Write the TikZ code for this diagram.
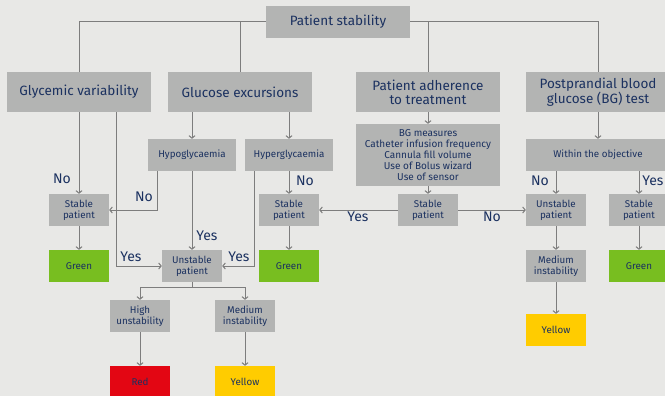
\documentclass[tikz,border=0pt]{standalone}
\usepackage{fontspec}
\setmainfont{Fira Sans}
\usepackage{xcolor}
\usetikzlibrary{arrows.meta}
\definecolor{bgpage}{HTML}{E8E8E6}
\definecolor{boxgray}{HTML}{B3B4B3}
\definecolor{navy}{HTML}{1B3160}
\definecolor{linegray}{HTML}{7D7D7D}
\definecolor{okgreen}{HTML}{78BE20}
\definecolor{alertred}{HTML}{E30613}
\definecolor{warnyellow}{HTML}{FFCC00}

\begin{document}
\begin{tikzpicture}[x=1pt, y=-1pt, >={Straight Barb[length=2.5pt,width=6pt]},
  bigbox/.style={fill=boxgray, text=navy, inner sep=0pt, align=center,
    minimum width=144pt, minimum height=40pt, font=\fontsize{13.5}{14}\selectfont},
  midbox/.style={fill=boxgray, text=navy, inner sep=0pt, align=center,
    minimum width=88pt, minimum height=32pt, font=\fontsize{9.8}{11}\selectfont},
  smallbox/.style={fill=boxgray, text=navy, inner sep=0pt, align=center,
    minimum width=60pt, minimum height=32pt, font=\fontsize{9.8}{11}\selectfont},
  colbox/.style={smallbox, fill=#1},
  link/.style={draw=linegray, line width=1pt},
  lab/.style={text=navy, inner sep=0pt, font=\fontsize{14}{15}\selectfont}]
  \useasboundingbox (0,0) rectangle (665,396);
  \fill[bgpage] (0,0) rectangle (665,396);

  % top row
  \node[bigbox, minimum height=32pt] (stab) at (338,22) {Patient stability};
  \node[bigbox] (glyc) at (79,92) {Glycemic variability};
  \node[bigbox] (gluc) at (240,92) {Glucose excursions};
  \node[bigbox] (adh) at (428,92) {Patient adherence\\to treatment};
  \node[bigbox] (post) at (598,92) {Postprandial blood\\glucose (BG) test};

  % second row
  \node[midbox] (hypo) at (192,155) {Hypoglycaemia};
  \node[midbox] (hyper) at (289,155) {Hyperglycaemia};
  \node[midbox, minimum width=144pt, minimum height=62pt,
    font=\fontsize{10}{11}\selectfont] (bgm) at (428,155)
    {BG measures\\Catheter infusion frequency\\Cannula fill volume\\Use of Bolus wizard\\Use of sensor};
  \node[midbox, minimum width=144pt] (within) at (598,155) {Within the objective};

  % outcome rows
  \foreach \n/\x in {stA/79, stB/289, stC/428, stD/639} {
    \node[smallbox] (\n) at (\x,210) {Stable\\patient};
  }
  \node[smallbox] (unR) at (556,210) {Unstable\\patient};
  \node[smallbox] (unC) at (192,266) {Unstable\\patient};
  \foreach \n/\x in {grA/79, grB/289, grD/639} {
    \node[colbox=okgreen] (\n) at (\x,266) {Green};
  }
  \node[smallbox] (medR) at (556,266) {Medium\\instability};
  \node[smallbox] (high) at (140,316) {High\\unstability};
  \node[smallbox] (medC) at (245,316) {Medium\\instability};
  \node[colbox=alertred] (red) at (140,382) {Red};
  \node[colbox=warnyellow] (yelC) at (245,382) {Yellow};
  \node[colbox=warnyellow] (yelR) at (556,330) {Yellow};

  % tree from the top
  \draw[link] (stab.west) -| (glyc.north);
  \draw[link] (gluc.north) |- (stab.west);
  \draw[link] (adh.north) |- (stab.east);
  \draw[link] (stab.east) -| (post.north);

  % glycemic variability
  \draw[link, ->] (glyc.south) -- (stA.north);
  \draw[link, ->] ([xshift=37pt]glyc.south) |- (unC.west);

  % glucose excursions
  \draw[link, ->] (gluc.south -| hypo.north) -- (hypo.north);
  \draw[link, ->] (gluc.south -| hyper.north) -- (hyper.north);
  \draw[link, ->] ([xshift=-35pt]hypo.south) |- (stA.east);
  \draw[link, ->] (hypo.south) -- (unC.north);
  \draw[link, ->] ([xshift=-35pt]hyper.south) |- (unC.east);
  \draw[link, ->] (hyper.south) -- (stB.north);

  % adherence
  \draw[link, ->] (adh.south) -- (bgm.north);
  \draw[link, ->] (bgm.south) -- (stC.north);
  \draw[link, ->] (stC.west) -- (stB.east);
  \draw[link, ->] (stC.east) -- (unR.west);

  % postprandial
  \draw[link, ->] (post.south) -- (within.north);
  \draw[link, ->] (within.south -| unR.north) -- (unR.north);
  \draw[link, ->] (within.south -| stD.north) -- (stD.north);

  % results
  \foreach \a/\b in {stA/grA, stB/grB, stD/grD, unR/medR, medR/yelR, high/red, medC/yelC} {
    \draw[link, ->] (\a.south) -- (\b.north);
  }
  \draw[link, ->] (unC.south) -- ++(0,5) -| (high.north);
  \draw[link, ->] (unC.south) -- ++(0,5) -| (medC.north);

  % branch labels
  \node[lab] (l1) at (62,179) {No};
  \node[lab] (l2) at (144,197) {No};
  \node[lab] (l3) at (131,257) {Yes};
  \node[lab] (l4) at (207,236) {Yes};
  \node[lab] (l5) at (239,257) {Yes};
  \node[lab] (l6) at (305,181) {No};
  \node[lab] (l7) at (358,217) {Yes};
  \node[lab] (l8) at (492,217) {No};
  \node[lab] (l9) at (540,181) {No};
  \node[lab] (l10) at (653,181) {Yes};
\end{tikzpicture}
\end{document}
